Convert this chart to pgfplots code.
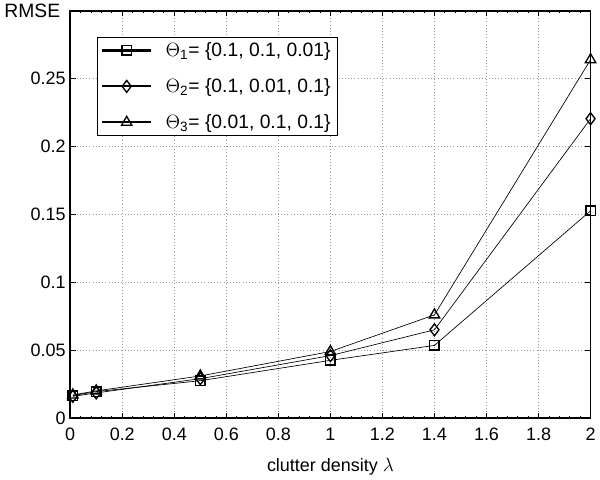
\documentclass[border=0pt]{standalone}
\usepackage{pgfplots}
\pgfplotsset{compat=1.18}
\usepackage{fontspec}
\setmainfont{Liberation Sans}
\begin{document}
\begin{tikzpicture}
\begin{axis}[
  scale only axis,
  width=391pt, height=306pt,
  xmin=0, xmax=2, ymin=0, ymax=0.3,
  xtick={0,0.2,...,2.01},
  xticklabels={0,0.2,0.4,0.6,0.8,1,1.2,1.4,1.6,1.8,2},
  ytick={0,0.05,0.1,0.15,0.2,0.25},
  yticklabels={0,0.05,0.1,0.15,0.2,0.25},
  /pgf/number format/assume math mode=true,
  tick align=inside,
  tick pos=both,
  minor x tick num=4,
  minor tick length=1.5pt,
  major tick length=4pt,
  grid=major,
  major grid style={dotted, gray!80, line width=0.6pt},
  axis line style={line width=1.2pt},
  tick style={black, line width=0.6pt},
  tick label style={font=\fontsize{13.5}{15}\selectfont},
  xticklabel style={yshift=-4pt},
  xlabel={clutter density $\lambda$},
  xlabel style={font=\fontsize{13.5}{15}\selectfont, yshift=-6pt},
  ylabel={RMSE},
  ylabel style={font=\fontsize{14.5}{16}\selectfont, rotate=-90, at={(rel axis cs:0,1)}, anchor=south east, xshift=-4pt, yshift=-9pt},
  legend style={at={(0.051,0.936)}, anchor=north west, draw=black, font=\fontsize{14.5}{17}\selectfont, row sep=11pt},
  legend cell align=left,
  every axis plot/.append style={line width=0.5pt, black,
    legend image code/.code={
      \draw[line width=1.6pt] (0cm,0cm) -- (1.3cm,0cm);
      \draw[line width=1.6pt] plot coordinates {(0.65cm,0cm)};
      \node[inner sep=0pt, minimum size=0pt, draw=none] at (1.6cm,0cm) {};
    }},
]
\addplot[mark=square, mark size=3.5pt, mark options={line width=1pt, fill=none}]
  coordinates {(0.01,0.0165) (0.1,0.0195) (0.5,0.0275) (1,0.0425) (1.4,0.0535) (2,0.1527)};
\addplot[mark=diamond, mark size=4.5pt, mark options={line width=1pt, fill=none}]
  coordinates {(0.01,0.016) (0.1,0.0185) (0.5,0.029) (1,0.046) (1.4,0.065) (2,0.2205)};
\addplot[mark=triangle, mark size=4.5pt, mark options={line width=1pt, fill=none}]
  coordinates {(0.01,0.017) (0.1,0.02) (0.5,0.031) (1,0.049) (1.4,0.076) (2,0.264)};
\legend{{$\Theta_{\mathrm{1}}$= \{0.1, 0.1, 0.01\}}, {$\Theta_{\mathrm{2}}$= \{0.1, 0.01, 0.1\}}, {$\Theta_{\mathrm{3}}$= \{0.01, 0.1, 0.1\}}}
\end{axis}
\end{tikzpicture}
\end{document}
